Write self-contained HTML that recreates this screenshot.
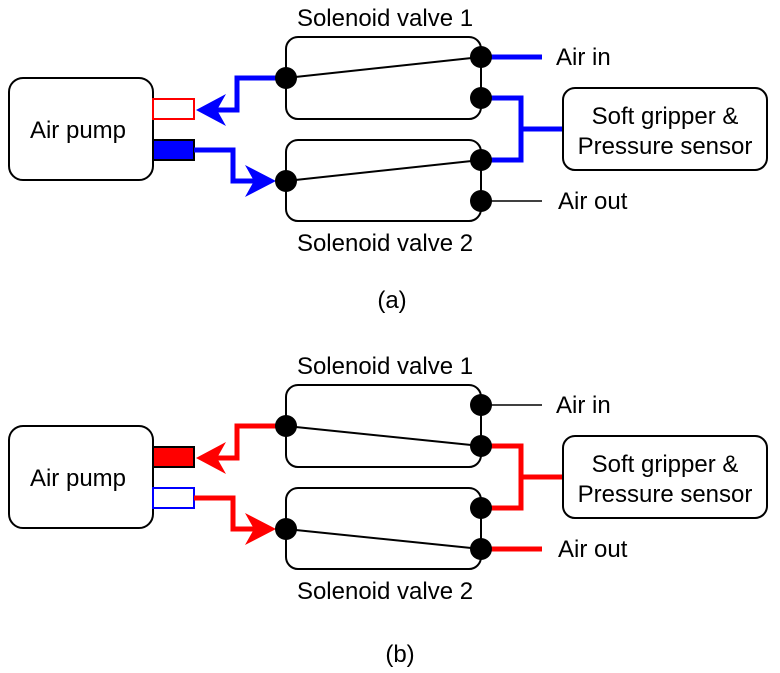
<!DOCTYPE html>
<html><head><meta charset="utf-8"><style>body{margin:0;background:#fff}svg{display:block}text{font-family:"Liberation Sans",Arial,sans-serif;font-size:24px;fill:#000}</style></head><body>
<svg width="780" height="673" viewBox="0 0 780 673" xmlns="http://www.w3.org/2000/svg">
<g id="a">
<rect x="9" y="78" width="144" height="102" rx="14" fill="#fff" stroke="#000" stroke-width="2"/>
<text x="78" y="138" text-anchor="middle">Air pump</text>
<rect x="153" y="99" width="41" height="20" fill="#fff" stroke="#f00" stroke-width="2"/>
<rect x="153" y="140" width="41" height="20" fill="#00f" stroke="#000" stroke-width="2"/>
<rect x="286" y="37" width="195" height="82" rx="12" fill="#fff" stroke="#000" stroke-width="2"/>
<rect x="286" y="140" width="195" height="81" rx="12" fill="#fff" stroke="#000" stroke-width="2"/>
<line x1="481" y1="57" x2="481" y2="98" stroke="#000" stroke-width="2"/>
<line x1="481" y1="160" x2="481" y2="201" stroke="#000" stroke-width="2"/>
<line x1="286" y1="78" x2="481" y2="57" stroke="#000" stroke-width="2"/>
<line x1="286" y1="181" x2="481" y2="160" stroke="#000" stroke-width="2"/>
<g fill="none" stroke="#00f" stroke-width="5">
<polyline points="286,78 237,78 237,110 210,110"/>
<polyline points="194,150 233,150 233,181 262,181"/>
<polyline points="481,98 521,98 521,160 481,160"/>
<line x1="521" y1="129" x2="563" y2="129"/>
<line x1="481" y1="57" x2="542" y2="57"/>
</g>
<polygon points="196,110 226,94 217,110 226,126" fill="#00f"/>
<polygon points="276,181 245,165 254,181 245,197" fill="#00f"/>
<line x1="481" y1="201" x2="542" y2="201" stroke="#000" stroke-width="1.5"/>
<g fill="#000"><circle cx="286" cy="78" r="11"/><circle cx="286" cy="181" r="11"/><circle cx="481" cy="57" r="11"/><circle cx="481" cy="98" r="11"/><circle cx="481" cy="160" r="11"/><circle cx="481" cy="201" r="11"/></g>
<rect x="563" y="88" width="204" height="82" rx="12" fill="#fff" stroke="#000" stroke-width="2"/>
<text x="665" y="124" text-anchor="middle">Soft gripper &amp;</text>
<text x="665" y="154" text-anchor="middle">Pressure sensor</text>
<text x="385" y="26" text-anchor="middle">Solenoid valve 1</text>
<text x="385" y="251" text-anchor="middle">Solenoid valve 2</text>
<text x="556" y="65">Air in</text>
<text x="558" y="209">Air out</text>
<text x="392" y="308" text-anchor="middle">(a)</text>
</g>
<g transform="translate(0,348)">
<rect x="9" y="78" width="144" height="102" rx="14" fill="#fff" stroke="#000" stroke-width="2"/>
<text x="78" y="138" text-anchor="middle">Air pump</text>
<rect x="153" y="99" width="41" height="20" fill="#f00" stroke="#000" stroke-width="2"/>
<rect x="153" y="140" width="41" height="20" fill="#fff" stroke="#00f" stroke-width="2"/>
<rect x="286" y="37" width="195" height="82" rx="12" fill="#fff" stroke="#000" stroke-width="2"/>
<rect x="286" y="140" width="195" height="81" rx="12" fill="#fff" stroke="#000" stroke-width="2"/>
<line x1="481" y1="57" x2="481" y2="98" stroke="#000" stroke-width="2"/>
<line x1="481" y1="160" x2="481" y2="201" stroke="#000" stroke-width="2"/>
<line x1="286" y1="78" x2="481" y2="98" stroke="#000" stroke-width="2"/>
<line x1="286" y1="181" x2="481" y2="201" stroke="#000" stroke-width="2"/>
<g fill="none" stroke="#f00" stroke-width="5">
<polyline points="286,78 237,78 237,110 210,110"/>
<polyline points="194,150 233,150 233,181 262,181"/>
<polyline points="481,98 521,98 521,160 481,160"/>
<line x1="521" y1="129" x2="563" y2="129"/>
<line x1="481" y1="201" x2="542" y2="201"/>
</g>
<polygon points="196,110 226,94 217,110 226,126" fill="#f00"/>
<polygon points="276,181 245,165 254,181 245,197" fill="#f00"/>
<line x1="481" y1="57" x2="542" y2="57" stroke="#000" stroke-width="1.5"/>
<g fill="#000"><circle cx="286" cy="78" r="11"/><circle cx="286" cy="181" r="11"/><circle cx="481" cy="57" r="11"/><circle cx="481" cy="98" r="11"/><circle cx="481" cy="160" r="11"/><circle cx="481" cy="201" r="11"/></g>
<rect x="563" y="88" width="204" height="82" rx="12" fill="#fff" stroke="#000" stroke-width="2"/>
<text x="665" y="124" text-anchor="middle">Soft gripper &amp;</text>
<text x="665" y="154" text-anchor="middle">Pressure sensor</text>
<text x="385" y="26" text-anchor="middle">Solenoid valve 1</text>
<text x="385" y="251" text-anchor="middle">Solenoid valve 2</text>
<text x="556" y="65">Air in</text>
<text x="558" y="209">Air out</text>
<text x="400" y="314" text-anchor="middle">(b)</text>
</g>
</svg>
</body></html>
